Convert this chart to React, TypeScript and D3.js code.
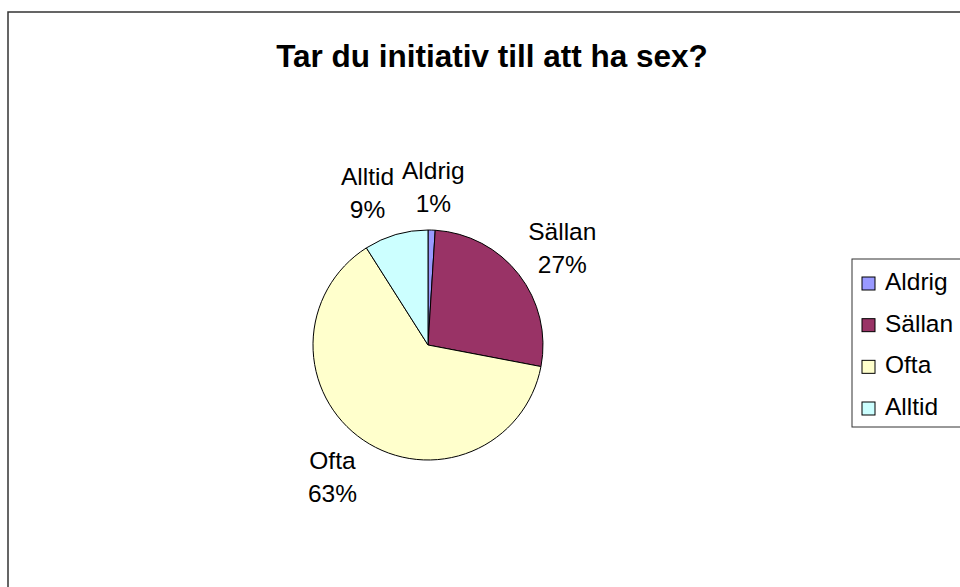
import React, { useEffect, useRef } from 'react';
import * as d3 from 'd3';

const categories = ['Aldrig', 'Sällan', 'Ofta', 'Alltid'];
const shares = [1, 27, 63, 9];
const colors = ['#9999FF', '#993366', '#FFFFCC', '#CCFFFF'];
const title = 'Tar du initiativ till att ha sex?';

const W = 960;
const H = 587;

export default function App() {
  const svgRef = useRef<SVGSVGElement>(null);

  useEffect(() => {
    if (!svgRef.current) return;
    const svg = d3.select(svgRef.current);
    svg.selectAll('*').remove();

    const font = '"Liberation Sans", Arial, sans-serif';
    const cx = 428;
    const cy = 345;
    const r = 115;
    const labelRx = 170;
    const labelRy = 159;

    // chart area frame (runs off the right and bottom edges)
    svg.append('rect')
      .attr('x', 8)
      .attr('y', 12)
      .attr('width', 1000)
      .attr('height', 700)
      .attr('fill', '#fff')
      .attr('stroke', '#333')
      .attr('stroke-width', 1.5);

    svg.append('text')
      .attr('x', 492)
      .attr('y', 67)
      .attr('text-anchor', 'middle')
      .style('font-family', font)
      .style('font-weight', 'bold')
      .style('font-size', '31.5px')
      .text(title);

    const data = categories.map((c, i) => ({ name: c, value: shares[i], color: colors[i] }));
    const pie = d3.pie<typeof data[0]>().value(d => d.value).sort(null);
    const arcs = pie(data);
    const arc = d3.arc<d3.PieArcDatum<typeof data[0]>>().innerRadius(0).outerRadius(r);

    const g = svg.append('g').attr('transform', `translate(${cx},${cy})`);
    g.selectAll('path')
      .data(arcs)
      .join('path')
      .attr('d', arc)
      .attr('fill', d => d.data.color)
      .attr('stroke', '#000')
      .attr('stroke-width', 1);

    // label positions, nudged horizontally to avoid overlap
    const fs = 24.5;
    const ctx = document.createElement('canvas').getContext('2d')!;
    ctx.font = `${fs}px ${font}`;
    const labels = arcs.map(a => {
      const mid = (a.startAngle + a.endAngle) / 2;
      const text = [a.data.name, `${a.data.value}%`];
      const w = Math.max(...text.map(t => ctx.measureText(t).width));
      return { x: Math.sin(mid) * labelRx, y: -Math.cos(mid) * labelRy, w, text, mid };
    });
    for (let i = 0; i < labels.length; i++) {
      for (let j = 0; j < labels.length; j++) {
        if (i === j) continue;
        const a = labels[i];
        const b = labels[j];
        if (Math.abs(a.y - b.y) > 60) continue;
        const gap = 8;
        const minDx = (a.w + b.w) / 2 + gap;
        if (Math.abs(a.x - b.x) < minDx && a.x < b.x && a.mid > Math.PI) {
          a.x = b.x - minDx;
        }
      }
    }

    const lh = 33;
    labels.forEach(l => {
      const t = g.append('text')
        .attr('text-anchor', 'middle')
        .style('font-family', font)
        .style('font-size', `${fs}px`)
        .attr('fill', '#000');
      l.text.forEach((s, k) => {
        t.append('tspan')
          .attr('x', l.x)
          .attr('y', l.y - lh / 2 + 9 + k * lh)
          .text(s);
      });
    });

    // legend
    const lx = 852;
    const ly = 259;
    svg.append('rect')
      .attr('x', lx)
      .attr('y', ly)
      .attr('width', 200)
      .attr('height', 168)
      .attr('fill', '#fff')
      .attr('stroke', '#333')
      .attr('stroke-width', 1);

    const rowY = d3.scalePoint<string>().domain(categories).range([290, 415]);
    const items = svg.append('g').selectAll('g')
      .data(data)
      .join('g')
      .attr('transform', d => `translate(0,${rowY(d.name)})`);
    items.append('rect')
      .attr('x', 862)
      .attr('y', -13)
      .attr('width', 13)
      .attr('height', 13)
      .attr('fill', d => d.color)
      .attr('stroke', '#000')
      .attr('stroke-width', 1);
    items.append('text')
      .attr('x', 885)
      .attr('y', 0)
      .style('font-family', font)
      .style('font-size', `${fs}px`)
      .text(d => d.name);
  }, []);

  return (
    <svg
      ref={svgRef}
      width={W}
      height={H}
      style={{ position: 'absolute', left: 0, top: 0, background: '#fff' }}
    />
  );
}
